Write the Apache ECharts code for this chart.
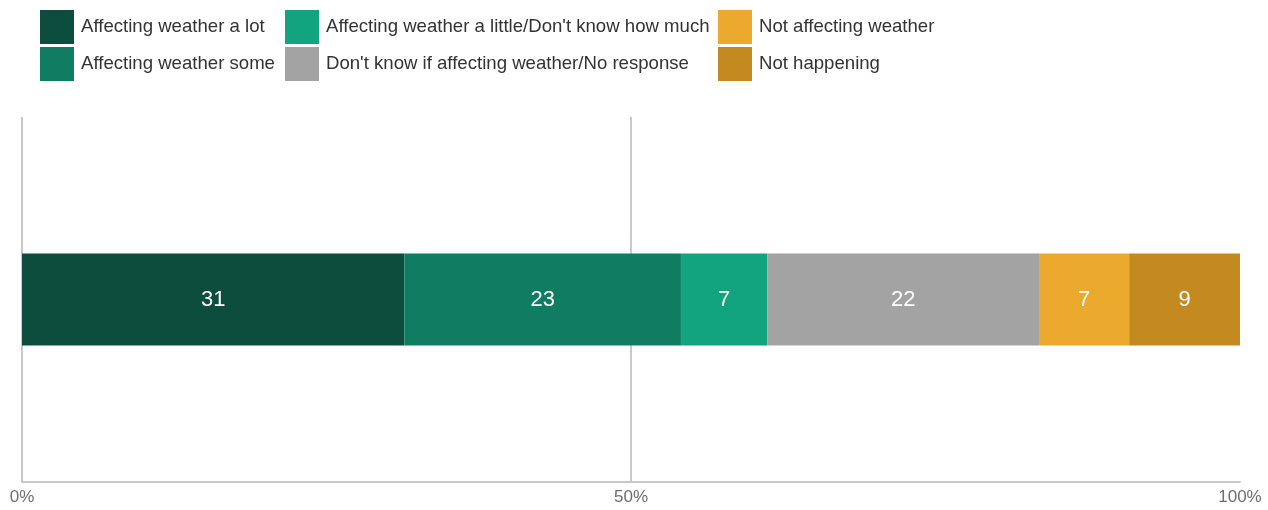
<!DOCTYPE html>
<html><head><meta charset="utf-8">
<script src="https://cdn.jsdelivr.net/npm/echarts@6/dist/echarts.min.js"></script>
<style>html,body{margin:0;padding:0;background:#fff}#c{width:1268px;height:510px}</style>
</head><body><div id="c"></div>
<script>
var categories = [''];
var seriesNames = ['Affecting weather a lot','Affecting weather some','Affecting weather a little/Don\'t know how much','Don\'t know if affecting weather/No response','Not affecting weather','Not happening'];
var seriesValues = [31.4, 22.7, 7.1, 22.3, 7.4, 9.1];
var seriesColors = ['#0d4d3d','#107d63','#12a47f','#a3a3a3','#ebaa2d','#c38a20'];
var tickLabels = ['0%','50%','100%'];

var FONT = '"Liberation Sans", Arial, sans-serif';
var chart = echarts.init(document.getElementById('c'));
var legendCols = [[0,1],[2,3],[4,5]];
var legendLeft = [40, 285, 718];
var legends = legendCols.map(function(idx, i){
  return {
    orient: 'vertical', left: legendLeft[i], top: 10, padding: 0,
    itemWidth: 34, itemHeight: 34, itemGap: 3,
    icon: 'rect',
    textStyle: {fontFamily: FONT, fontSize: 18.6, color: '#333', padding: [0,0,0,2]},
    data: idx.map(function(k){return seriesNames[k];}),
    selectedMode: false
  };
});
chart.setOption({
  animation: false,
  legend: legends,
  grid: {left: 22, right: 28, top: 117, bottom: 28},
  xAxis: {
    type: 'value', min: 0, max: 100, interval: 50,
    axisLine: {show: true, lineStyle: {color: '#c8c8c8', width: 2}},
    axisTick: {show: false},
    splitLine: {show: true, showMaxLine: false, lineStyle: {color: '#c8c8c8', width: 2}},
    axisLabel: {fontFamily: FONT, fontSize: 17, color: '#6e6e6e', margin: 7,
      formatter: function(v){ return tickLabels[Math.round(v/50)]; },
      alignMinLabel: 'center', alignMaxLabel: 'center'}
  },
  yAxis: {type: 'category', data: categories, axisLine: {show: false}, axisTick: {show: false}, axisLabel: {show: false}},
  series: seriesNames.map(function(n, i){
    return {
      name: n, type: 'bar', stack: 'all', barWidth: 92,
      itemStyle: {color: seriesColors[i]},
      label: {show: true, position: 'inside', color: '#fff', fontFamily: FONT, fontSize: 22,
        formatter: function(p){ return String(Math.round(p.value)); }},
      data: [seriesValues[i]]
    };
  })
});
</script></body></html>
